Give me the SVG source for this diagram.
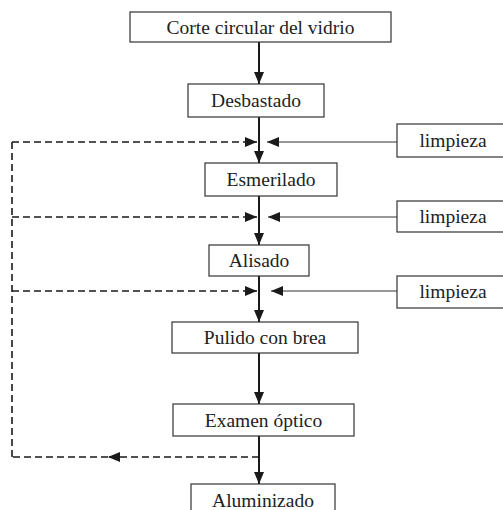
<svg xmlns="http://www.w3.org/2000/svg" width="503" height="510" viewBox="0 0 503 510">
<defs>
<style>
.box{fill:#fff;stroke:#333;stroke-width:1.2}
.t{font-size:19.5px;fill:#222;text-anchor:middle}
.main{stroke:#1a1a1a;stroke-width:2;fill:none}
.dash{stroke:#1a1a1a;stroke-width:1.6;stroke-dasharray:7,4;fill:none}
.thin{stroke:#333;stroke-width:1;fill:none}
</style>
<marker id="ah" viewBox="0 0 12 10" refX="12" refY="5" markerWidth="12" markerHeight="10" markerUnits="userSpaceOnUse" orient="auto">
<path d="M0,0 L12,5 L0,10 Z" fill="#1a1a1a"/>
</marker>
</defs>
<rect width="503" height="510" fill="#fff"/>
<g id="connectors">
<line class="main" x1="259" y1="42" x2="259" y2="84" marker-end="url(#ah)"/>
<line class="main" x1="259" y1="117" x2="259" y2="163" marker-end="url(#ah)"/>
<line class="main" x1="259" y1="196" x2="259" y2="245" marker-end="url(#ah)"/>
<line class="main" x1="259" y1="276" x2="259" y2="322" marker-end="url(#ah)"/>
<line class="main" x1="259" y1="353" x2="259" y2="404" marker-end="url(#ah)"/>
<line class="main" x1="259" y1="436" x2="259" y2="484" marker-end="url(#ah)"/>
<line class="thin" x1="397" y1="142" x2="267" y2="142" marker-end="url(#ah)"/>
<line class="thin" x1="397" y1="217" x2="268" y2="217" marker-end="url(#ah)"/>
<line class="thin" x1="397" y1="291" x2="271" y2="291" marker-end="url(#ah)"/>
<line class="dash" x1="12" y1="142" x2="257" y2="142" marker-end="url(#ah)"/>
<line class="dash" x1="12" y1="217" x2="257" y2="217" marker-end="url(#ah)"/>
<line class="dash" x1="12" y1="291" x2="257" y2="291" marker-end="url(#ah)"/>
<line class="dash" x1="12" y1="142" x2="12" y2="457"/>
<line class="dash" x1="259" y1="457" x2="108" y2="457" marker-end="url(#ah)"/>
<line class="dash" x1="108" y1="457" x2="12" y2="457"/>
</g>
<g font-family="'Liberation Serif', Tinos, 'Times New Roman', 'DejaVu Serif', serif">
<g id="corte"><rect class="box" x="130" y="12" width="261" height="30"/><text class="t" x="260.5" y="34">Corte circular del vidrio</text></g>
<g id="desbastado"><rect class="box" x="188" y="84" width="136" height="33"/><text class="t" x="256" y="107">Desbastado</text></g>
<g id="esmerilado"><rect class="box" x="205" y="163" width="132" height="33"/><text class="t" x="271" y="186">Esmerilado</text></g>
<g id="alisado"><rect class="box" x="209" y="245" width="100" height="31"/><text class="t" x="259" y="267">Alisado</text></g>
<g id="pulido"><rect class="box" x="172" y="322" width="186" height="31"/><text class="t" x="265" y="344">Pulido con brea</text></g>
<g id="examen"><rect class="box" x="173" y="404" width="181" height="32"/><text class="t" x="263.5" y="427">Examen óptico</text></g>
<g id="aluminizado"><rect class="box" x="191" y="484" width="144" height="34"/><text class="t" x="263" y="507">Aluminizado</text></g>
<g id="limpieza1"><rect class="box" x="397" y="124" width="112" height="33"/><text class="t" x="453" y="147">limpieza</text></g>
<g id="limpieza2"><rect class="box" x="397" y="201" width="112" height="31"/><text class="t" x="453" y="223">limpieza</text></g>
<g id="limpieza3"><rect class="box" x="397" y="276" width="112" height="32"/><text class="t" x="453" y="298">limpieza</text></g>
</g>
</svg>
